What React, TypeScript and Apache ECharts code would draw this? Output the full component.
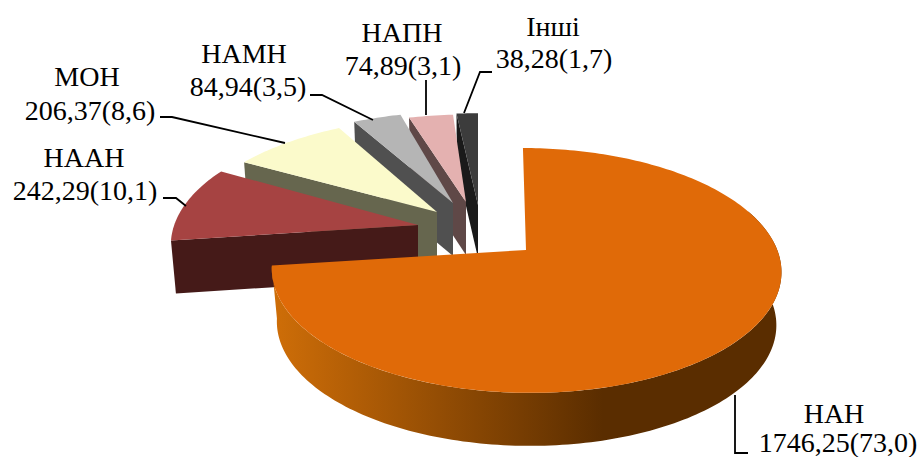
import React, { useEffect, useRef } from "react";
import * as echarts from "echarts";

const categories = ["НАН", "НААН", "МОН", "НАМН", "НАПН", "Інші"];
const values = [1746.25, 242.29, 206.37, 84.94, 74.89, 38.28];
const valueLabels = ["1746,25(73,0)", "242,29(10,1)", "206,37(8,6)", "84,94(3,5)", "74,89(3,1)", "38,28(1,7)"];

const topColors = ["#E06A08", "#A64342", "#FBFACB", "#B5B5B5", "#E4B1B0", "#3C3C3C"];
const faceColors = ["#5A2D00", "#451A18", "#66664E", "#505050", "#5F4847", "#1A1A1A"];

// apex of each exploded slice in pixels, plus horizontal scale, vertical scale and tilt
const apexX = [526, 418, 437, 453, 466, 478];
const apexY = [250, 225, 212, 203, 202, 205];
const scaleX = [1.005, 0.975, 0.98, 1.0, 1.05, 1];
const scaleY = [1, 1, 0.93, 0.9, 0.86, 0.9];
const tilt = [-0.03, 0, 0.1, 0.12, 0.11, 0];

const RX = 250;
const RY = 119;
const PERSPECTIVE = 0.167;
const DEPTH = 53;
const INSET = 0.98;

const total = values.reduce((a, b) => a + b, 0);
const starts: number[] = [];
values.reduce((acc, v, i) => {
  starts[i] = acc;
  return acc + (v / total) * 2 * Math.PI;
}, 0);

function rim(i: number, t: number, down: boolean): number[] {
  const s = 1 / (1 + PERSPECTIVE * Math.cos(t));
  const dx = RX * Math.sin(t) * s * scaleX[i];
  const dy = -RY * Math.cos(t) * s * scaleY[i];
  let x = dx - tilt[i] * dy;
  if (down) x *= INSET;
  return [apexX[i] + x, apexY[i] + dy + (down ? DEPTH : 0)];
}

function arc(i: number, a: number, b: number, down: boolean): number[][] {
  const n = Math.max(2, Math.ceil(Math.abs(b - a) / 0.02));
  const pts: number[][] = [];
  for (let k = 0; k <= n; k++) pts.push(rim(i, a + ((b - a) * k) / n, down));
  return pts;
}

const renderItem = (_: any, api: any) => {
  const i = api.value(0) as number;
  const a0 = starts[i];
  const a1 = a0 + (api.value(1) / total) * 2 * Math.PI;
  const apex = [apexX[i], apexY[i]];
  const children: any[] = [];
  if (i === 0) {
    const from = (70 * Math.PI) / 180;
    const pts = [...arc(0, from, a1, false), ...arc(0, a1, from, true)];
    children.push({
      type: "polygon",
      shape: { points: pts },
      style: {
        fill: new echarts.graphic.LinearGradient(0, 0, 1, 0, [
          { offset: 0, color: "#CF6E08" },
          { offset: 0.65, color: "#5A2D00" },
          { offset: 1, color: "#5A2D00" },
        ]),
      },
    });
  } else {
    children.push({
      type: "polygon",
      shape: { points: [apex, rim(i, a0, false), rim(i, a0, true), [apex[0], apex[1] + DEPTH]] },
      style: { fill: faceColors[i] },
    });
  }
  children.push({
    type: "polygon",
    shape: { points: [apex, ...arc(i, a0, a1, false)] },
    style: { fill: topColors[i] },
  });
  return { type: "group", children };
};

// label placement: name centre, value centre, leader polyline
const nameX = [834, 84, 87, 244, 402, 553];
const nameY = [413, 157, 76, 53, 32, 26];
const valueX = [838, 85, 90, 248, 403, 554];
const valueY = [442, 190, 110, 86, 65, 58];
const leaders = [
  [[735, 395], [735, 453], [748, 453]],
  [[163, 198], [176, 198], [186, 206]],
  [[160, 117], [172, 117], [285, 143]],
  [[310, 95], [322, 95], [373, 120]],
  [[426, 80], [426, 115]],
  [[492, 72], [480, 72], [464, 113]],
];

const font = '28px "Liberation Serif", "Times New Roman", serif';

export default function App() {
  const ref = useRef<HTMLDivElement>(null);
  useEffect(() => {
    document.body.style.margin = "0";
    document.body.style.background = "#fff";
    const chart = echarts.init(ref.current!, undefined, { renderer: "svg" });
    const graphics: any[] = [];
    categories.forEach((name, i) => {
      graphics.push({
        type: "polyline",
        shape: { points: leaders[i] },
        style: { stroke: "#000", lineWidth: 1.8, fill: "none" },
        z: 10,
      });
      graphics.push({
        type: "text",
        x: nameX[i],
        y: nameY[i],
        style: { text: name, font, fill: "#000", textAlign: "center", textVerticalAlign: "middle" },
        z: 11,
      });
      graphics.push({
        type: "text",
        x: valueX[i],
        y: valueY[i],
        style: { text: valueLabels[i], font, fill: "#000", textAlign: "center", textVerticalAlign: "middle" },
        z: 11,
      });
    });
    chart.setOption({
      animation: false,
      backgroundColor: "#fff",
      series: [
        {
          type: "custom",
          coordinateSystem: "none",
          silent: true,
          renderItem,
          data: values.map((v, i) => [i, v]).reverse(),
          encode: {},
        },
      ],
      graphic: graphics,
    });
    return () => chart.dispose();
  }, []);
  return <div ref={ref} style={{ width: 918, height: 457 }} />;
}
